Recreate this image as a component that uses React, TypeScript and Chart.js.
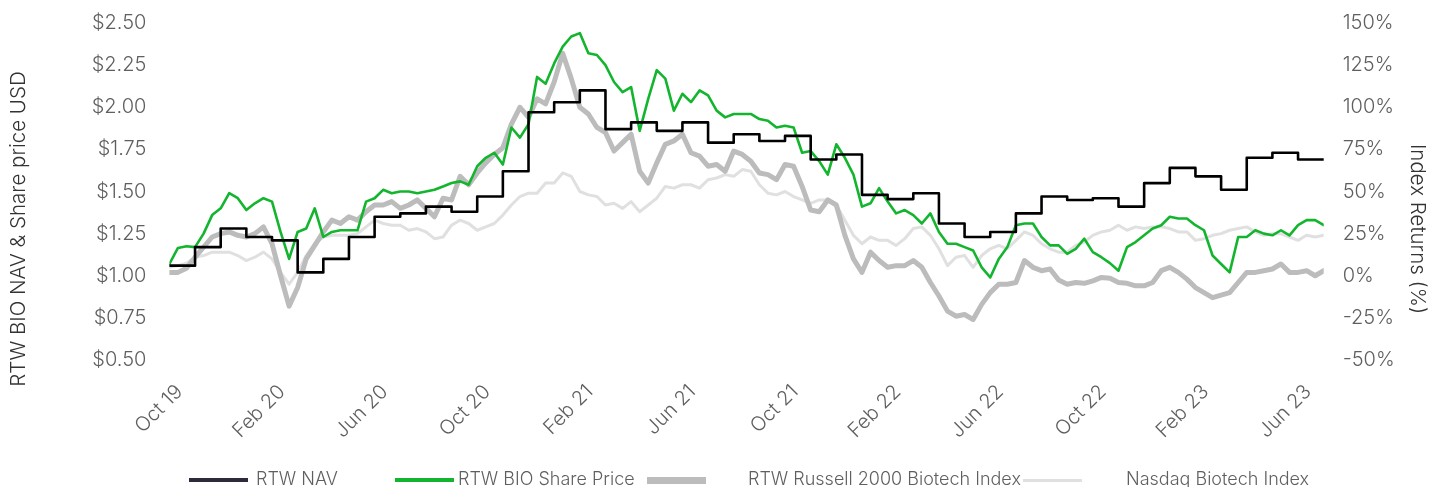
import React, { useEffect, useRef } from 'react';
import { Chart, registerables } from 'chart.js';

Chart.register(...registerables);

// x tick labels, one every 4 months starting Oct 2019
const tickLabels = ['Oct 19', 'Feb 20', 'Jun 20', 'Oct 20', 'Feb 21', 'Jun 21', 'Oct 21', 'Feb 22', 'Jun 22', 'Oct 22', 'Feb 23', 'Jun 23'];
const tickEveryMonths = 4;
const pointsPerMonth = 3; // price / index samples every ~10 days
const lastMonthEnd = 45; // end of Jun 2023, in months since 1 Oct 2019

// RTW NAV (USD), one value per month from Oct 2019 to Jun 2023
const navValues = [
  1.06, 1.17, 1.28, 1.23, 1.21, 1.02, 1.10, 1.23, 1.35, 1.37, 1.41, 1.38,
  1.47, 1.62, 1.97, 2.03, 2.10, 1.87, 1.91, 1.86, 1.91, 1.79, 1.84, 1.80,
  1.83, 1.69, 1.72, 1.48, 1.455, 1.49, 1.31, 1.23, 1.26, 1.37, 1.47, 1.45,
  1.46, 1.41, 1.55, 1.64, 1.59, 1.51, 1.70, 1.73, 1.69,
];

// RTW BIO share price (USD), every ~10 days
const sharePrice = [
  1.07, 1.165, 1.175, 1.17, 1.25, 1.36, 1.40, 1.49, 1.46, 1.39, 1.43, 1.46,
  1.44, 1.26, 1.10, 1.26, 1.28, 1.40, 1.23, 1.26, 1.27, 1.27, 1.27, 1.44,
  1.46, 1.51, 1.49, 1.50, 1.50, 1.49, 1.50, 1.51, 1.53, 1.55, 1.56, 1.54,
  1.65, 1.70, 1.73, 1.66, 1.88, 1.82, 1.90, 2.18, 2.14, 2.26, 2.36, 2.42,
  2.44, 2.32, 2.31, 2.25, 2.15, 2.09, 2.12, 1.86, 2.05, 2.22, 2.17, 1.98,
  2.08, 2.03, 2.10, 2.07, 1.98, 1.94, 1.96, 1.96, 1.96, 1.93, 1.92, 1.88,
  1.89, 1.88, 1.73, 1.74, 1.68, 1.60, 1.78, 1.70, 1.60, 1.41, 1.43, 1.52,
  1.44, 1.37, 1.39, 1.36, 1.31, 1.37, 1.26, 1.19, 1.19, 1.17, 1.15, 1.05,
  0.99, 1.10, 1.17, 1.30, 1.31, 1.31, 1.23, 1.18, 1.18, 1.13, 1.16, 1.22,
  1.14, 1.11, 1.075, 1.03, 1.17, 1.20, 1.24, 1.28, 1.30, 1.35, 1.34, 1.34,
  1.30, 1.27, 1.12, 1.07, 1.02, 1.23, 1.23, 1.27, 1.25, 1.24, 1.27, 1.24,
  1.30, 1.33, 1.33, 1.30,
];

// RTW Russell 2000 Biotech Index, return (%), every ~10 days
const russellReturns = [
  2, 2, 4.5, 11, 17, 23, 25, 26, 24, 23, 25, 29,
  19, 0, -18, -7, 10, 18, 26, 33, 31, 35, 33, 38,
  42, 42, 44, 40, 42, 45, 40, 35, 46, 45, 59, 54,
  61, 67, 72, 76, 90, 100, 94, 105, 102, 115, 132, 117,
  100, 96, 88, 85, 74, 79, 84, 62, 55, 67, 78, 80,
  84, 73, 71, 65, 66, 62, 74, 72, 68, 61, 60, 57,
  66, 65, 53, 39, 38, 45, 42, 24, 10, 2, 14, 9,
  5, 6, 6, 9, 5, -4, -12, -21, -24, -23, -26, -17,
  -10, -5, -5, -4, 9, 5, 3, 4, -2.5, -5, -4, -4.5,
  -3, -1, -1.5, -4, -4.5, -6, -6, -4, 3, 5, 2, -2,
  -7, -10, -13, -11.5, -10, -4, 2, 2, 3, 4, 7, 2,
  2, 3, 0, 3,
];

// Nasdaq Biotech Index, return (%), every ~10 days
const nasdaqReturns = [
  5, 6, 7.5, 11, 12, 14, 14, 14, 12, 9, 11, 14,
  10, 2, -5, 2, 12, 19, 23, 24, 24, 24, 25, 29,
  33, 31, 30, 30, 27, 28, 26, 22, 23, 30, 33, 31,
  27, 29, 31, 36, 42, 47, 49, 49, 55, 55, 61, 59,
  50, 48, 47, 42, 43, 40, 44, 38, 42, 46, 53, 52,
  54, 54, 52, 57, 58, 60, 59, 63, 62, 54, 49, 48,
  50, 47, 45, 43, 45, 45, 42, 33, 24, 19, 23, 21,
  21, 18, 22, 28, 29, 24, 16, 6, 11, 12, 5, 12,
  16, 18, 16, 21, 26, 24, 19, 16, 14, 14, 18, 20,
  24, 26, 27, 30, 27, 29, 28, 29, 29, 28, 26, 26,
  21, 22, 24, 25, 27, 28, 29, 26, 24, 25, 25, 23,
  21, 24, 23, 24,
];

const seriesNames = ['RTW NAV', 'RTW BIO Share Price', 'RTW Russell 2000 Biotech Index', 'Nasdaq Biotech Index'];
const leftTitle = 'RTW BIO NAV & Share price USD';
const rightTitle = 'Index Returns (%)';

const COLORS = {
  nav: '#000000',
  navLegend: '#2b2b3d',
  price: '#14b52e',
  russell: '#bcbcbc',
  nasdaq: '#e0e0e0',
  tick: '#5f5f5f',
  title: '#333333',
};
const FONT = 'Inter, "Noto Sans", sans-serif';

const W = 1439;
const H = 487;
const PLOT_TOP = 23;
const PLOT_BOTTOM = 360;

const axisTitles = {
  id: 'axisTitles',
  afterDraw(chart: any) {
    const { ctx } = chart;
    const cy = 229;
    ctx.save();
    ctx.fillStyle = COLORS.title;
    ctx.font = `300 20.5px ${FONT}`;
    ctx.textAlign = 'center';
    ctx.textBaseline = 'middle';
    ctx.translate(19, cy);
    ctx.rotate(-Math.PI / 2);
    ctx.fillText(leftTitle, 0, 0);
    ctx.restore();
    ctx.save();
    ctx.fillStyle = COLORS.title;
    ctx.font = `300 20.5px ${FONT}`;
    ctx.textAlign = 'center';
    ctx.textBaseline = 'middle';
    ctx.translate(1417, cy);
    ctx.rotate(Math.PI / 2);
    ctx.fillText(rightTitle, 0, 0);
    ctx.restore();
  },
};

export default function App() {
  const canvasRef = useRef<HTMLCanvasElement | null>(null);

  useEffect(() => {
    document.body.style.margin = '0';
    const canvas = canvasRef.current;
    if (!canvas) return;

    const navPoints = navValues.map((v, k) => ({ x: k, y: v }));
    navPoints.push({ x: lastMonthEnd, y: navValues[navValues.length - 1] });
    const toPts = (arr: number[]) => arr.map((v, i) => ({ x: i / pointsPerMonth, y: v }));

    const fitVertical = (width: number) => (scale: any) => {
      scale.width = width;
      scale.paddingTop = 0;
      scale.paddingBottom = 0;
    };

    const chart = new Chart(canvas, {
      type: 'line',
      data: {
        datasets: [
          {
            label: seriesNames[0],
            data: navPoints,
            borderColor: COLORS.nav,
            borderWidth: 2.6,
            stepped: true,
            pointRadius: 0,
            yAxisID: 'y',
          },
          {
            label: seriesNames[1],
            data: toPts(sharePrice),
            borderColor: COLORS.price,
            borderWidth: 2.6,
            tension: 0,
            pointRadius: 0,
            yAxisID: 'y',
          },
          {
            label: seriesNames[2],
            data: toPts(russellReturns),
            borderColor: COLORS.russell,
            borderWidth: 5,
            tension: 0,
            pointRadius: 0,
            yAxisID: 'y1',
          },
          {
            label: seriesNames[3],
            data: toPts(nasdaqReturns),
            borderColor: COLORS.nasdaq,
            borderWidth: 3,
            tension: 0,
            pointRadius: 0,
            yAxisID: 'y1',
          },
        ],
      },
      options: {
        responsive: false,
        animation: false,
        devicePixelRatio: 1,
        layout: { padding: { top: PLOT_TOP, left: 0, right: 0, bottom: 0 } },
        plugins: {
          legend: { display: false },
          tooltip: { enabled: false },
        },
        elements: { line: { borderJoinStyle: 'round', borderCapStyle: 'round' } },
        scales: {
          x: {
            type: 'linear',
            min: 0,
            max: lastMonthEnd,
            grid: { display: false, drawTicks: false },
            border: { display: false },
            afterBuildTicks: (scale: any) => {
              scale.ticks = tickLabels.map((_, i) => ({ value: i * tickEveryMonths }));
            },
            afterFit: (scale: any) => {
              scale.height = H - PLOT_BOTTOM;
              scale.paddingTop = 0;
            },
            ticks: {
              autoSkip: false,
              minRotation: 45,
              maxRotation: 45,
              padding: 20,
              labelOffset: 10,
              color: COLORS.tick,
              font: { family: FONT, size: 20, weight: '300' },
              callback: (v: any) => tickLabels[Math.round(Number(v) / tickEveryMonths)] ?? '',
            },
          },
          y: {
            position: 'left',
            min: 0.5,
            max: 2.5,
            grid: { display: false, drawTicks: false },
            border: { display: false },
            afterFit: fitVertical(169.4),
            ticks: {
              stepSize: 0.25,
              padding: 23,
              color: COLORS.tick,
              font: { family: FONT, size: 20, weight: '300' },
              callback: (v: any) => '$' + Number(v).toFixed(2),
            },
          },
          y1: {
            position: 'right',
            min: -50,
            max: 150,
            grid: { display: false, drawTicks: false },
            border: { display: false },
            afterFit: fitVertical(W - 1323.7),
            ticks: {
              stepSize: 25,
              padding: 19,
              color: COLORS.tick,
              font: { family: FONT, size: 20, weight: '300' },
              callback: (v: any) => `${v}%`,
            },
          },
        },
      },
      plugins: [axisTitles],
    });

    return () => chart.destroy();
  }, []);

  const legendItems = [
    { name: seriesNames[0], color: COLORS.navLegend, lineLeft: 189, thick: 4, textLeft: 256 },
    { name: seriesNames[1], color: COLORS.price, lineLeft: 395, thick: 4, textLeft: 458 },
    { name: seriesNames[2], color: COLORS.russell, lineLeft: 647, thick: 7, textLeft: 748 },
    { name: seriesNames[3], color: COLORS.nasdaq, lineLeft: 1023, thick: 3, textLeft: 1126 },
  ];

  return (
    <div style={{ position: 'relative', width: W, height: H, background: '#fff', overflow: 'hidden' }}>
      <canvas ref={canvasRef} width={W} height={H} style={{ display: 'block', width: W, height: H }} />
      {legendItems.map((it) => (
        <React.Fragment key={it.name}>
          <div
            style={{
              position: 'absolute',
              left: it.lineLeft,
              top: 480 - it.thick / 2,
              width: 59,
              height: it.thick,
              background: it.color,
            }}
          />
          <div
            style={{
              position: 'absolute',
              left: it.textLeft,
              top: 468,
              lineHeight: '22px',
              fontFamily: FONT,
              fontWeight: 300,
              fontSize: 18,
              color: COLORS.tick,
              whiteSpace: 'nowrap',
            }}
          >
            {it.name}
          </div>
        </React.Fragment>
      ))}
    </div>
  );
}
